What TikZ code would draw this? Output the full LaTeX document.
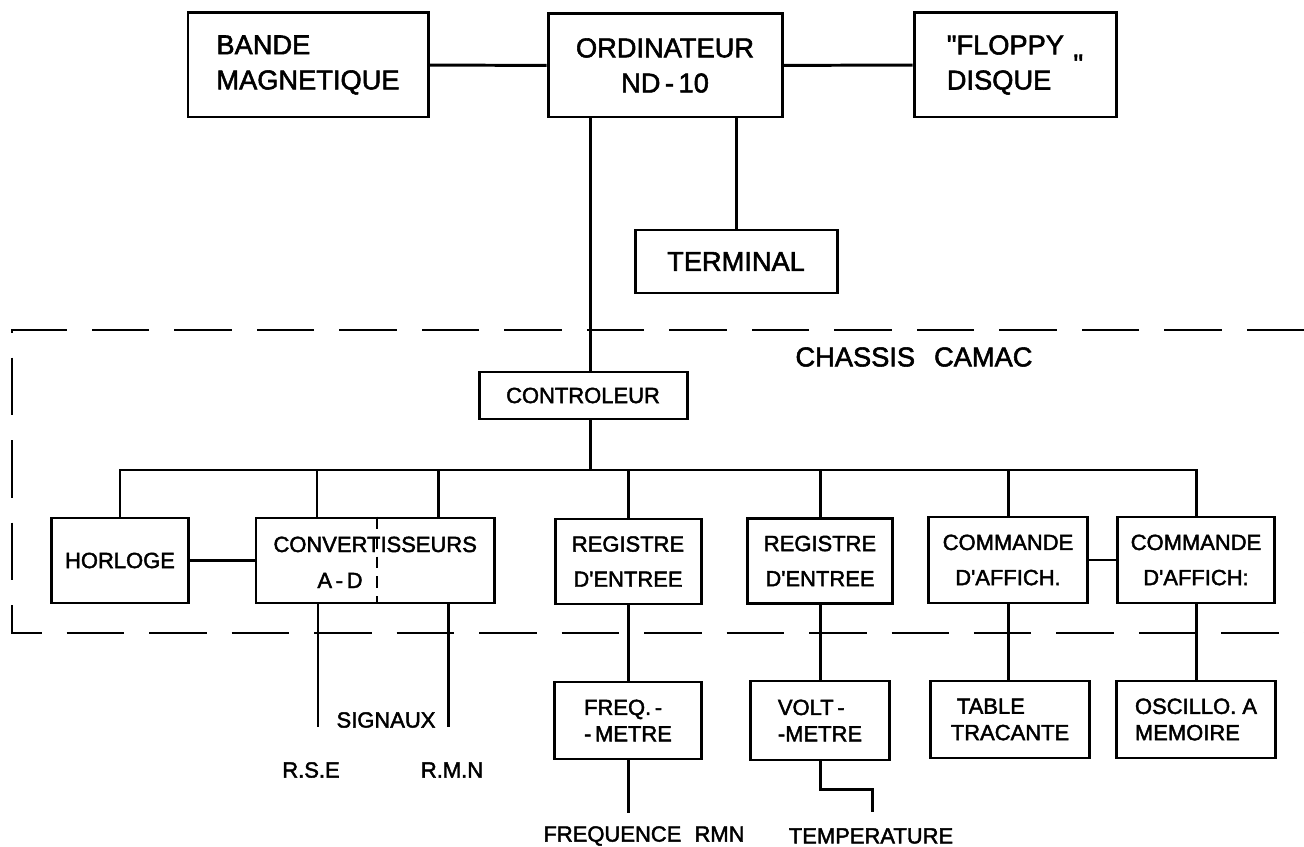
\documentclass[tikz,border=0pt]{standalone}
\usepackage{fontspec}
\setmainfont{Liberation Sans}[FakeBold=2]
\usetikzlibrary{positioning}
\tikzset{
  box/.style 2 args={draw, minimum width=#1*0.02cm, minimum height=#2*0.02cm, inner sep=2pt},
  bigtxt/.style={font=\fontsize{15.5}{20}\selectfont},
  midtxt/.style={font=\fontsize{12.5}{20}\selectfont},
  lowtxt/.style={font=\fontsize{12.5}{15}\selectfont},
  chassis/.style={dash pattern=on 1.15cm off 0.5cm},
  divider/.style={line width=1.2pt, dash pattern=on 0.24cm off 0.16cm},
}

\begin{document}
\begin{tikzpicture}[x=0.02cm, y=-0.02cm, line width=1.7pt]
\useasboundingbox (0,0) rectangle (1304,847);

% Top row
\node[box={240}{104}, bigtxt, align=left] (bande) at (308,65) {BANDE\\MAGNETIQUE};
\node[box={234}{103}, bigtxt, align=center] (ordi) at (665,65.5) {ORDINATEUR\\ND\,-\,10};
\node[box={202}{104}, bigtxt, align=left] (floppy) at (1015,65) {\textquotedbl FLOPPY\hspace{0.35em}\smash{\raisebox{-0.7em}{\textquotedbl}}\\DISQUE};
\node[box={202}{63}, bigtxt] (terminal) at (736,261.5) {TERMINAL};

% CAMAC crate
\draw[chassis] (1304,330) -- (12,330) -- (12,633) -- (1304,633);
\node[bigtxt] (camac) at (914,357) {CHASSIS\hspace{0.7em}CAMAC};
\node[box={208}{47}, midtxt] (ctrl) at (583,395.5) {CONTROLEUR};

% Modules
\node[box={137}{85}, midtxt] (horloge) at (120,560.5) {HORLOGE};
\node[box={238}{85}] (conv) at (375,560.5) {};
\node[midtxt, anchor=base west, inner sep=0pt] (convtxt) at (272,552) {CONVERTISSEURS};
\node[midtxt, anchor=base, inner sep=0pt] (adtxt) at (340,588) {A\,-\,D};
\draw[divider] (conv.north -| 377,0) -- (conv.south -| 377,0);
\node[box={146}{85}, midtxt, align=center] (reg1) at (628,561.5) {REGISTRE\\D\textquotesingle ENTREE};
\node[box={145}{85}, midtxt, align=center] (reg2) at (820,561) {REGISTRE\\D\textquotesingle ENTREE};
\node[box={159}{86}, midtxt, align=center] (cmd1) at (1008,560) {COMMANDE\\D\textquotesingle AFFICH.};
\node[box={157}{86}, midtxt, align=center] (cmd2) at (1196,560) {COMMANDE\\D\textquotesingle AFFICH:};

% Instruments
\node[box={147}{77}, lowtxt, align=left] (freq) at (628,720.5) {FREQ.\,-\\-\,METRE};
\node[box={139}{79}, lowtxt, align=left] (volt) at (820,720.5) {VOLT\,-\\-METRE};
\node[box={159}{77}, lowtxt, align=left] (table) at (1010,719.5) {\ TABLE\\TRACANTE};
\node[box={159}{77}, lowtxt, align=left] (oscillo) at (1196,719.5) {OSCILLO.\ A\\MEMOIRE};

% Signal ends
\coordinate (rse) at (318,727);
\coordinate (rmn) at (448,727);
\coordinate (frmn) at (628,813);
\coordinate (temp) at (872,812);
\coordinate (bus) at (590,470);

% Labels
\node[lowtxt] (signaux) at (386,720) {SIGNAUX};
\node[lowtxt] (rsetxt) at (311,770) {R.S.E};
\node[lowtxt] (rmntxt) at (452,770) {R.M.N};
\node[lowtxt] (freqtxt) at (644,836) {FREQUENCE\hspace{0.6em}RMN};
\node[lowtxt] (temptxt) at (871,836) {TEMPERATURE};

% Lines
\draw (bande) -- (ordi);
\draw (ordi) -- (floppy);
\draw (terminal.north) -- (terminal.north |- ordi.south);
\draw (ordi.south -| bus) -- (ctrl.north -| bus);
\draw (ctrl.south -| bus) -- (bus);
\draw (horloge.north) |- (bus) -| (cmd2.north);
\draw (horloge) -- (conv);
\draw (cmd1) -- (cmd2);
\draw (conv.north -| 317,0) -- (bus -| 317,0);
\draw (conv.north -| 438,0) -- (bus -| 438,0);
\foreach \n in {reg1, reg2, cmd1}
  \draw (\n.north) -- (\n.north |- bus);
\draw (reg1) -- (freq);
\draw (reg2) -- (volt);
\draw (cmd1.south) -- (table.north -| cmd1.south);
\draw (cmd2) -- (oscillo);
\draw (conv.south -| rse) -- (rse);
\draw (conv.south -| rmn) -- (rmn);
\draw (freq) -- (frmn);
\draw (volt.south) -- ++(0,28) -| (temp);

\end{tikzpicture}
\end{document}
